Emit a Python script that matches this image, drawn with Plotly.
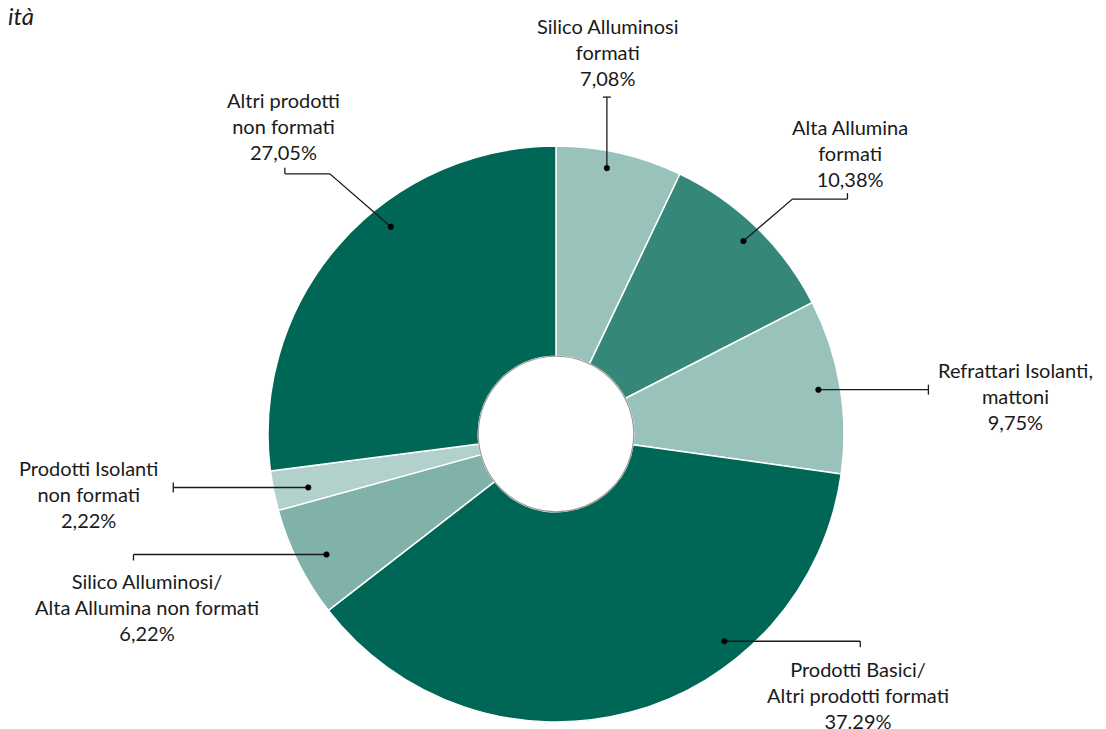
import math
import plotly.graph_objects as go

# ---- data ----
labels = [
    "Silico Alluminosi<br>formati",
    "Alta Allumina<br>formati",
    "Refrattari Isolanti,<br>mattoni",
    "Prodotti Basici/<br>Altri prodotti formati",
    "Silico Alluminosi/<br>Alta Allumina non formati",
    "Prodotti Isolanti<br>non formati",
    "Altri prodotti<br>non formati",
]
values = [7.08, 10.38, 9.75, 37.29, 6.22, 2.22, 27.05]
value_texts = ["7,08%", "10,38%", "9,75%", "37.29%", "6,22%", "2,22%", "27,05%"]
colors = ["#99c2bb", "#35877a", "#99c2bb", "#006655", "#80b2aa", "#b3d1cc", "#006655"]

# ---- layout geometry (page pixels; page body has an 8px margin) ----
PAGE_W, PAGE_H = 1106, 729
OFF = 8
W, H = PAGE_W - OFF, PAGE_H - OFF
CX, CY, R = 556, 434, 288
HOLE = 0.27

leader = [
    dict(frac=0.425, rr=0.94, path=[(0, -71)], tick="h", label=(608, 52)),
    dict(frac=0.50, rr=0.934, path=[(49, -42), (104, -42)], tick="vup", label=(850, 153)),
    dict(frac=0.50, rr=0.924, path=[(110, 0)], tick="v", label=(1015, 396)),
    dict(frac=0.32, rr=0.927, path=[(136, 0)], tick="vdown", label=(858, 695)),
    dict(frac=0.45, rr=0.90, path=[(-193, 0)], tick="vdown", label=(147, 607)),
    dict(frac=0.40, rr=0.88, path=[(-135, 0)], tick="v", label=(88, 494)),
    dict(frac=0.604, rr=0.92, path=[(-61, -53), (-106, -53)], tick="vup", label=(283, 126)),
]

fcx, fcy = CX - OFF, H - (CY - OFF)

fig = go.Figure()
fig.add_trace(go.Pie(
    labels=[l.replace("<br>", " ") for l in labels],
    values=values,
    marker=dict(colors=colors, line=dict(color="white", width=1.5)),
    hole=HOLE,
    sort=False,
    direction="clockwise",
    rotation=0,
    textinfo="none",
    hoverinfo="label+percent",
    showlegend=False,
    domain=dict(x=[(fcx - R) / W, (fcx + R) / W], y=[(fcy - R) / H, (fcy + R) / H]),
))

line_style = dict(color="#1a1a1a", width=1.3)

# hole outline
fig.add_shape(type="circle", xref="x", yref="y", layer="above",
              x0=CX - R * HOLE, x1=CX + R * HOLE, y0=CY - R * HOLE, y1=CY + R * HOLE,
              line=dict(color="#999999", width=1.2), fillcolor="rgba(0,0,0,0)")

total = sum(values)
cum = 0.0
for i, v in enumerate(values):
    L = leader[i]
    ang = (cum + v * L["frac"]) / total * 2 * math.pi
    cum += v
    dx = CX + L["rr"] * R * math.sin(ang)
    dy = CY - L["rr"] * R * math.cos(ang)
    pts = [(dx, dy)] + [(dx + p[0], dy + p[1]) for p in L["path"]]
    path = "M " + " L ".join(f"{x:.2f},{y:.2f}" for x, y in pts)
    fig.add_shape(type="path", path=path, xref="x", yref="y", layer="above", line=line_style)
    fig.add_shape(type="circle", xref="x", yref="y", layer="above",
                  x0=dx - 2.8, x1=dx + 2.8, y0=dy - 2.8, y1=dy + 2.8,
                  fillcolor="#000000", line=dict(color="#000000", width=0.5))
    ex, ey = pts[-1]
    t = L["tick"]
    if t == "h":
        tx0, ty0, tx1, ty1 = ex - 4, ey, ex + 4, ey
    elif t == "v":
        tx0, ty0, tx1, ty1 = ex, ey - 5, ex, ey + 5
    elif t == "vup":
        tx0, ty0, tx1, ty1 = ex, ey - 6, ex, ey
    else:
        tx0, ty0, tx1, ty1 = ex, ey, ex, ey + 6
    fig.add_shape(type="line", xref="x", yref="y", layer="above",
                  x0=tx0, y0=ty0, x1=tx1, y1=ty1, line=line_style)
    lx, ly = L["label"]
    fig.add_annotation(x=lx, y=ly, xref="x", yref="y", showarrow=False,
                       text=labels[i] + "<br>" + value_texts[i],
                       font=dict(family="Lato, Noto Sans, sans-serif", size=20, color="#1a1a1a"),
                       align="center", xanchor="center", yanchor="middle")

fig.add_annotation(x=0, y=(H - (16 - OFF)) / H, xref="paper", yref="paper", xshift=-2,
                   showarrow=False, text="<i>ità</i>",
                   font=dict(family="Lato, Noto Sans, sans-serif", size=24, color="#1a1a1a"),
                   xanchor="left", yanchor="middle")

fig.update_layout(
    width=W, height=H,
    margin=dict(l=0, r=0, t=0, b=0),
    paper_bgcolor="white", plot_bgcolor="rgba(0,0,0,0)",
    xaxis=dict(range=[OFF, PAGE_W], visible=False, fixedrange=True),
    yaxis=dict(range=[PAGE_H, OFF], visible=False, fixedrange=True),
)

fig.write_html("out.html")
